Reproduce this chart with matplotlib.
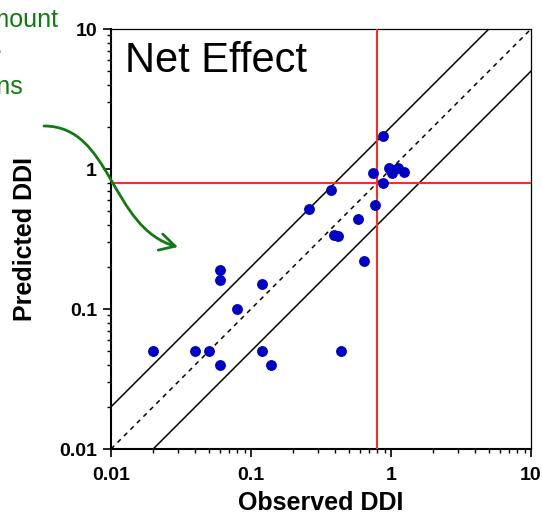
import matplotlib
matplotlib.use('Agg')
import matplotlib.pyplot as plt
from matplotlib.path import Path
from matplotlib.patches import FancyArrowPatch
from matplotlib.ticker import FixedLocator, FixedFormatter

plt.rcParams['font.family'] = ['Liberation Sans', 'DejaVu Sans']

# observed vs predicted DDI
observed = [0.02, 0.04, 0.05, 0.06, 0.06, 0.06, 0.08, 0.12, 0.12, 0.14,
            0.26, 0.37, 0.39, 0.42, 0.44, 0.58, 0.64, 0.74, 0.77, 0.88,
            0.96, 1.01, 1.13, 1.24, 0.87]
predicted = [0.05, 0.05, 0.05, 0.04, 0.19, 0.16, 0.10, 0.15, 0.05, 0.04,
             0.52, 0.71, 0.34, 0.33, 0.05, 0.44, 0.22, 0.94, 0.55, 0.79,
             1.02, 0.94, 1.02, 0.95, 1.73]

cutoff = 0.8
tick_vals = [0.01, 0.1, 1, 10]
tick_labels = ['0.01', '0.1', '1', '10']
side_lines = ['Total amount', 'of the', 'interactions']

W, H = 542, 520
fig = plt.figure(figsize=(W / 100, H / 100), dpi=100)
ax = fig.add_axes([111 / W, 1 - 449 / H, 420 / W, 420 / H])

ax.set_xscale('log')
ax.set_yscale('log')
ax.set_xlim(0.01, 10)
ax.set_ylim(0.01, 10)

# unity line and 2-fold limits
lim = [0.01, 10]
ax.plot(lim, lim, color='black', lw=1.1, ls=(0, (3, 3)), zorder=2)
ax.plot(lim, [2 * v for v in lim], color='black', lw=1.1, zorder=2)
ax.plot(lim, [0.5 * v for v in lim], color='black', lw=1.1, zorder=2)

ax.axhline(cutoff, color='#f03030', lw=1.5, zorder=3)
ax.axvline(cutoff, color='#f03030', lw=1.5, zorder=3)

ax.plot(observed, predicted, 'o', color='#0000c0', ms=6.8, mec='#0000c0', zorder=4)

ax.text(0.033, 0.898, 'Net Effect', transform=ax.transAxes, fontsize=30,
        ha='left', va='baseline')

for axis in (ax.xaxis, ax.yaxis):
    axis.set_major_locator(FixedLocator(tick_vals))
    axis.set_major_formatter(FixedFormatter(tick_labels))

ax.tick_params(which='major', direction='out', length=6, width=1.2,
               labelsize=14, pad=4)
ax.tick_params(which='minor', direction='out', length=3.2, width=1.0)
ax.tick_params(axis='x', which='major', pad=7)
ax.tick_params(top=False, right=False, which='both')
for lab in ax.get_xticklabels() + ax.get_yticklabels():
    lab.set_fontweight('bold')

for s in ('left', 'bottom'):
    ax.spines[s].set_linewidth(1.5)
for s in ('top', 'right'):
    ax.spines[s].set_linewidth(0.9)

ax.set_xlabel('Observed DDI', fontsize=18, fontweight='bold', labelpad=5)
ax.set_ylabel('Predicted DDI', fontsize=18, fontweight='bold', labelpad=16)

# green side text, cut off at the left edge as in the source slide
green = '#137a13'
for txt, (x, y) in zip(side_lines, [(58, 27), (2, 60), (23, 94)]):
    fig.text(x / W, 1 - y / H, txt, color=green, fontsize=18,
             ha='right', va='baseline')

# curved green arrow
pts = [(44, 126), (112, 126), (110, 228), (178, 247)]
verts = [(x / W, 1 - y / H) for x, y in pts]
path = Path(verts, [Path.MOVETO, Path.CURVE4, Path.CURVE4, Path.CURVE4])
arrow = FancyArrowPatch(path=path, arrowstyle='->,head_length=11,head_width=6',
                        transform=fig.transFigure, color=green, lw=2,
                        mutation_scale=1, zorder=10)
fig.patches.append(arrow)

fig.savefig('out.png', dpi=100)
